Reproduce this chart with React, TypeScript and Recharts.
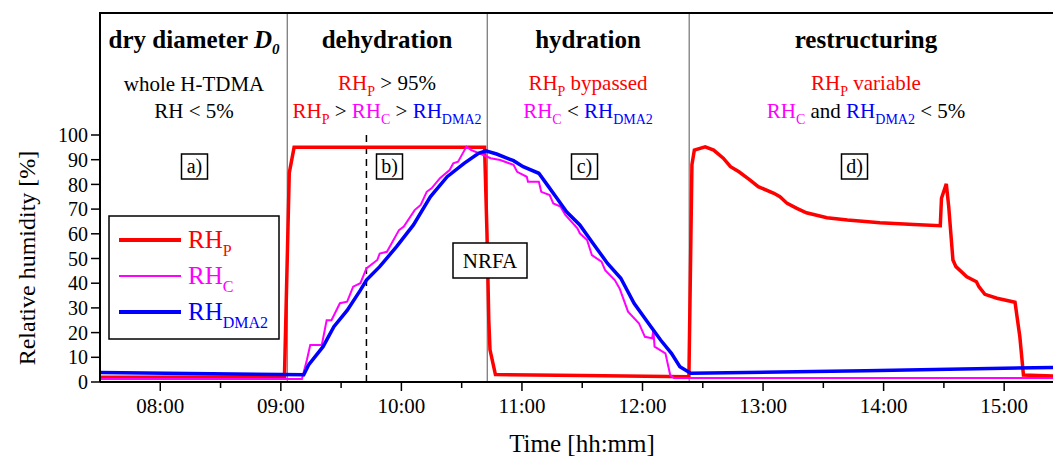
import React from 'react';
import { LineChart, Line, XAxis, YAxis, ReferenceLine } from 'recharts';

// time in decimal hours, values in % RH
const hourTicks = [8, 8.5, 9, 9.5, 10, 10.5, 11, 11.5, 12, 12.5, 13, 13.5, 14, 14.5, 15];
const rhTicks = [0, 10, 20, 30, 40, 50, 60, 70, 80, 90, 100];

const rhPTime = [
  7.5, 9.02, 9.03, 9.07, 9.11, 10.69, 10.71, 10.725, 10.735, 10.78, 11.5, 12.38,
  12.385, 12.41, 12.43, 12.52, 12.59, 12.67, 12.73, 12.8, 12.89, 12.96, 13.09, 13.14,
  13.2, 13.28, 13.36, 13.53, 13.7, 13.97, 14.25, 14.47, 14.48, 14.52, 14.54, 14.575,
  14.6, 14.69, 14.77, 14.79, 14.84, 14.94, 15.09, 15.13, 15.16, 15.405,
];
const rhPValue = [
  1.9, 2.0, 2.0, 84.6, 95, 95, 60, 25, 13, 3, 2.6, 2.1,
  2.1, 88, 93.9, 95.2, 93.9, 90.6, 87.2, 85.1, 81.8, 79.1, 76.4, 75,
  72.3, 70.3, 68.5, 66.5, 65.6, 64.5, 63.8, 63.3, 74.4, 80.2, 71, 49.4,
  46.7, 42.6, 40.6, 38.6, 35.5, 33.9, 32.3, 18.3, 2.8, 2.4,
];

const rhCTime = [
  7.5, 9.175, 9.216, 9.244, 9.34, 9.38, 9.42, 9.49, 9.55, 9.6, 9.66, 9.71, 9.8, 9.82,
  9.88, 9.98, 10.02, 10.11, 10.16, 10.21, 10.25, 10.32, 10.4, 10.43, 10.47, 10.54,
  10.58, 10.68, 10.74, 10.82, 10.93, 10.96, 11.04, 11.05, 11.14, 11.16, 11.23, 11.26,
  11.32, 11.36, 11.46, 11.48, 11.54, 11.58, 11.66, 11.69, 11.77, 11.81, 11.88, 11.97,
  12.02, 12.08, 12.09, 12.1, 12.19, 12.23, 12.26, 15.405,
];
const rhCValue = [
  1.2, 1.2, 8.9, 15, 15, 25, 25, 31.9, 32.5, 38.6, 40, 46, 49.4, 52,
  52.7, 61.5, 62.9, 69.6, 71.7, 77, 78.4, 82.5, 85.8, 88.5, 89.2, 95.3,
  93.9, 91.9, 90.6, 89.9, 87.9, 85.1, 83.1, 81.1, 81.1, 77, 75.7, 72.3,
  71, 67.6, 62.2, 60.2, 57.5, 51.4, 48.7, 45.3, 41.3, 37.9, 28.5, 23.8,
  18.3, 17.7, 21, 14.3, 11.6, 2.8, 1.6, 1.6,
];

const rhDmaTime = [
  7.5, 9.0, 9.19, 9.23, 9.35, 9.44, 9.55, 9.66, 9.71, 9.82, 9.96, 10.1, 10.24, 10.38,
  10.52, 10.64, 10.7, 10.79, 10.93, 11.01, 11.14, 11.21, 11.29, 11.37, 11.48, 11.59,
  11.71, 11.82, 11.93, 12.04, 12.15, 12.24, 12.31, 12.4, 13.85, 15.405,
];
const rhDmaValue = [
  3.8, 3.0, 2.9, 6.9, 14.3, 22.4, 29, 37.2, 41.3, 46.7, 54.8, 63.6, 75, 83.1,
  88.5, 92.6, 93.6, 92.3, 89.6, 87.2, 84.5, 79.8, 74.4, 68.9, 63.6, 56.1,
  48, 42, 31.9, 24.4, 17, 11.6, 6.2, 3.5, 4.6, 5.9,
];

// phase boundaries and the dashed marker
const phaseBounds = [9.053, 10.712, 12.387];
const dashedMark = 9.71;

const zip = (ts: number[], vs: number[]) => ts.map((t, i) => ({ t, v: vs[i] }));
const rhP = zip(rhPTime, rhPValue);
const rhC = zip(rhCTime, rhCValue);
const rhDma = zip(rhDmaTime, rhDmaValue);

const FONT = '"Liberation Serif", "Times New Roman", serif';
const RED = '#ff0000';
const MAG = '#ff00ff';
const BLUE = '#0000ff';
const HEADER_TOP = 13;
const PLOT_TOP = 135;

const fmtHour = (h: number) => `${String(h).padStart(2, '0')}:00`;

const BottomTick = (props: any) => {
  const { x, y, payload } = props;
  const major = Number.isInteger(payload.value);
  return (
    <g>
      <line x1={x} x2={x} y1={y} y2={y + (major ? 9 : 6)} stroke="#000" strokeWidth={1.5} />
      {major && (
        <text x={x} y={y + 31} textAnchor="middle" fontSize={21} fontFamily={FONT} fill="#000">
          {fmtHour(payload.value)}
        </text>
      )}
    </g>
  );
};

const TopTick = (props: any) => {
  const { x, y, payload } = props;
  const major = Number.isInteger(payload.value);
  return (
    <g>
      <line x1={x} x2={x} y1={y} y2={y + (major ? 9 : 7)} stroke="#000" strokeWidth={1.5} />
      <line x1={x} x2={x} y1={HEADER_TOP} y2={HEADER_TOP + 5} stroke="#000" strokeWidth={1.5} />
    </g>
  );
};

const BoxLabel = ({ cx, text }: { cx: number; text: string }) => (
  <g>
    <rect x={cx - 13} y={154} width={26} height={25} fill="#fff" stroke="#000" strokeWidth={1.5} />
    <text x={cx} y={173} textAnchor="middle" fontSize={20}>{text}</text>
  </g>
);

const Overlay = () => (
  <svg width={1053} height={457} style={{ position: 'absolute', left: 0, top: 0, pointerEvents: 'none' }} fontFamily={FONT}>
    {/* header frame */}
    <line x1={99} x2={1053} y1={HEADER_TOP} y2={HEADER_TOP} stroke="#000" strokeWidth={2} />
    <line x1={100} x2={100} y1={HEADER_TOP} y2={PLOT_TOP} stroke="#000" strokeWidth={2} />

    {/* section 1 */}
    <text x={194} y={48} textAnchor="middle" fontSize={25} fontWeight="bold">
      dry diameter <tspan fontStyle="italic">D</tspan>
      <tspan fontStyle="italic" fontSize={15} dy={6}>0</tspan>
    </text>
    <text x={194} y={91} textAnchor="middle" fontSize={21}>whole H-TDMA</text>
    <text x={194} y={118} textAnchor="middle" fontSize={21}>RH &lt; 5%</text>

    {/* section 2 */}
    <text x={387} y={48} textAnchor="middle" fontSize={25} fontWeight="bold">dehydration</text>
    <text x={387} y={90} textAnchor="middle" fontSize={21}>
      <tspan fill={RED}>RH</tspan><tspan fill={RED} fontSize={14} dy={6}>P</tspan>
      <tspan dy={-6}> &gt; 95%</tspan>
    </text>
    <text x={387} y={118} textAnchor="middle" fontSize={21}>
      <tspan fill={RED}>RH</tspan><tspan fill={RED} fontSize={14} dy={6}>P</tspan>
      <tspan dy={-6}> &gt; </tspan>
      <tspan fill={MAG}>RH</tspan><tspan fill={MAG} fontSize={14} dy={6}>C</tspan>
      <tspan dy={-6}> &gt; </tspan>
      <tspan fill={BLUE}>RH</tspan><tspan fill={BLUE} fontSize={14} dy={6}>DMA2</tspan>
    </text>

    {/* section 3 */}
    <text x={588} y={48} textAnchor="middle" fontSize={25} fontWeight="bold">hydration</text>
    <text x={588} y={90} textAnchor="middle" fontSize={21} fill={RED}>
      <tspan>RH</tspan><tspan fontSize={14} dy={6}>P</tspan>
      <tspan dy={-6}> bypassed</tspan>
    </text>
    <text x={588} y={118} textAnchor="middle" fontSize={21}>
      <tspan fill={MAG}>RH</tspan><tspan fill={MAG} fontSize={14} dy={6}>C</tspan>
      <tspan dy={-6}> &lt; </tspan>
      <tspan fill={BLUE}>RH</tspan><tspan fill={BLUE} fontSize={14} dy={6}>DMA2</tspan>
    </text>

    {/* section 4 */}
    <text x={866} y={48} textAnchor="middle" fontSize={25} fontWeight="bold">restructuring</text>
    <text x={866} y={90} textAnchor="middle" fontSize={21} fill={RED}>
      <tspan>RH</tspan><tspan fontSize={14} dy={6}>P</tspan>
      <tspan dy={-6}> variable</tspan>
    </text>
    <text x={866} y={118} textAnchor="middle" fontSize={21}>
      <tspan fill={MAG}>RH</tspan><tspan fill={MAG} fontSize={14} dy={6}>C</tspan>
      <tspan dy={-6}> and </tspan>
      <tspan fill={BLUE}>RH</tspan><tspan fill={BLUE} fontSize={14} dy={6}>DMA2</tspan>
      <tspan dy={-6}> &lt; 5%</tspan>
    </text>

    {/* panel labels */}
    <BoxLabel cx={194.5} text="a)" />
    <BoxLabel cx={389.5} text="b)" />
    <BoxLabel cx={584.5} text="c)" />
    <BoxLabel cx={854.5} text="d)" />

    <rect x={453} y={243} width={74} height={35} fill="#fff" stroke="#000" strokeWidth={1.5} />
    <text x={490} y={268} textAnchor="middle" fontSize={21}>NRFA</text>

    {/* legend */}
    <rect x={109} y={216} width={170} height={123} fill="#fff" stroke="#000" strokeWidth={1.5} />
    <line x1={119} x2={181} y1={240} y2={240} stroke={RED} strokeWidth={4} />
    <line x1={119} x2={181} y1={276} y2={276} stroke={MAG} strokeWidth={2} />
    <line x1={119} x2={181} y1={312} y2={312} stroke={BLUE} strokeWidth={4} />
    <text x={188} y={248} fontSize={25} fill={RED}>
      RH<tspan fontSize={16} dy={8}>P</tspan>
    </text>
    <text x={188} y={284} fontSize={25} fill={MAG}>
      RH<tspan fontSize={16} dy={8}>C</tspan>
    </text>
    <text x={188} y={320} fontSize={25} fill={BLUE}>
      RH<tspan fontSize={16} dy={8}>DMA2</tspan>
    </text>

    {/* axis titles */}
    <text transform="translate(35,258) rotate(-90)" textAnchor="middle" fontSize={24}>Relative humidity [%]</text>
    <text x={582} y={452} textAnchor="middle" fontSize={25}>Time [hh:mm]</text>
  </svg>
);

export default function App() {
  return (
    <div style={{ position: 'absolute', left: 0, top: 0, width: 1053, height: 457, background: '#fff' }}>
      <LineChart width={1053} height={457} margin={{ top: PLOT_TOP, right: 0, bottom: 0, left: 0 }}>
        <XAxis
          xAxisId="top"
          orientation="top"
          type="number"
          dataKey="t"
          domain={[7.5, 15.405]}
          ticks={hourTicks}
          interval={0}
          height={0}
          tickSize={0}
          tickMargin={0}
          tickLine={false}
          tick={TopTick}
          axisLine={{ stroke: '#000', strokeWidth: 2 }}
          allowDataOverflow
        />
        <XAxis
          type="number"
          dataKey="t"
          domain={[7.5, 15.405]}
          ticks={hourTicks}
          interval={0}
          height={75}
          tickSize={0}
          tickMargin={0}
          tickLine={false}
          tick={BottomTick}
          axisLine={{ stroke: '#000', strokeWidth: 2 }}
          allowDataOverflow
        />
        <YAxis
          type="number"
          domain={[0, 100]}
          ticks={rhTicks}
          interval={0}
          width={100}
          tickSize={9}
          tickMargin={3}
          tickLine={{ stroke: '#000', strokeWidth: 1.5 }}
          axisLine={{ stroke: '#000', strokeWidth: 2 }}
          tick={{ fill: '#000', fontSize: 20, fontFamily: FONT }}
        />
        {phaseBounds.map((b) => (
          <ReferenceLine
            key={b}
            segment={[{ x: b, y: 0 }, { x: b, y: 149.4 }]}
            ifOverflow="visible"
            stroke="#555"
            strokeWidth={1}
          />
        ))}
        <ReferenceLine x={dashedMark} stroke="#000" strokeWidth={1.5} strokeDasharray="7 5" />
        <Line data={rhP} dataKey="v" type="linear" stroke={RED} strokeWidth={3.5} dot={false} isAnimationActive={false} />
        <Line data={rhC} dataKey="v" type="linear" stroke={MAG} strokeWidth={2} dot={false} isAnimationActive={false} />
        <Line data={rhDma} dataKey="v" type="linear" stroke={BLUE} strokeWidth={3.5} dot={false} isAnimationActive={false} />
      </LineChart>
      <Overlay />
    </div>
  );
}
